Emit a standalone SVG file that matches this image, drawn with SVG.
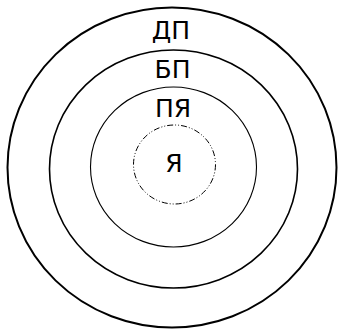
<svg xmlns="http://www.w3.org/2000/svg" width="339" height="329" viewBox="0 0 339 329">
<style>
.ring{fill:none;stroke:#000}
.lbl{font-family:"DejaVu Sans",sans-serif;font-size:25px;fill:#000;text-anchor:middle}
</style>
<rect width="339" height="329" fill="#fff"/>
<g id="dp">
<ellipse class="ring" cx="172" cy="167.5" rx="164.5" ry="160" stroke-width="2"/>
<text class="lbl" x="171" y="39">ДП</text>
</g>
<g id="bp">
<ellipse class="ring" cx="173.5" cy="169" rx="124" ry="119" stroke-width="1.6"/>
<text class="lbl" x="172.5" y="78">БП</text>
</g>
<g id="pya">
<ellipse class="ring" cx="173.5" cy="167" rx="83" ry="80" stroke-width="1.1"/>
<text class="lbl" x="173" y="117">ПЯ</text>
</g>
<g id="ya">
<ellipse class="ring" cx="174.5" cy="164.5" rx="41" ry="39.5" stroke-width="1" stroke-dasharray="6 2 1 2 1 2"/>
<text class="lbl" x="174" y="172">Я</text>
</g>
<g id="connectors"/>
</svg>
